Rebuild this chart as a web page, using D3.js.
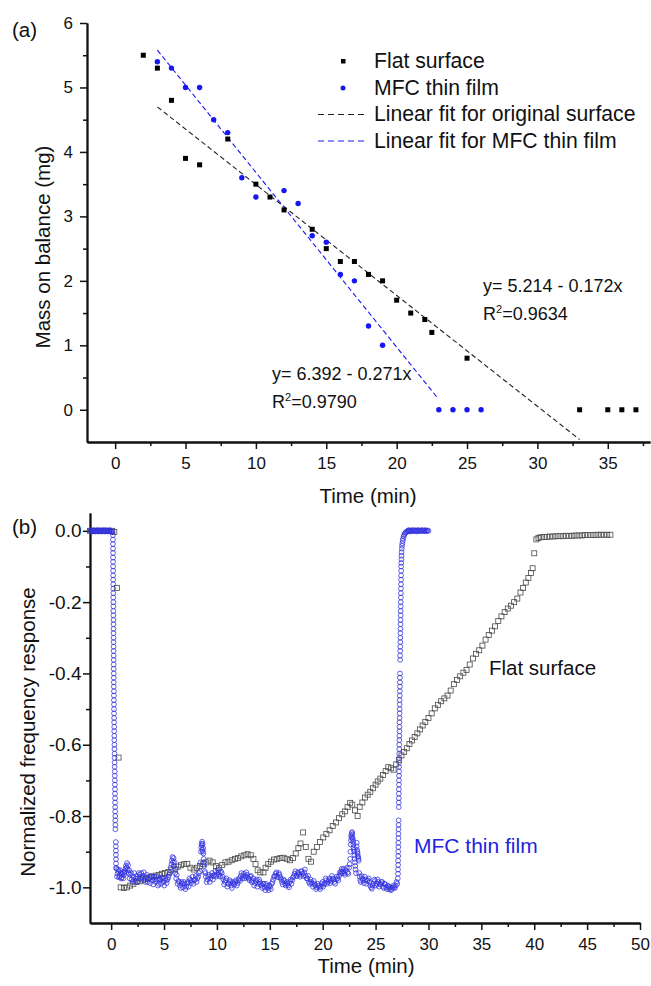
<!DOCTYPE html>
<html>
<head>
<meta charset="utf-8">
<script src="https://cdn.jsdelivr.net/npm/d3@7"></script>
<style>
body { margin: 0; background: #fff; }
svg { display: block; }
</style>
</head>
<body>
<svg id="chart"></svg>
<script>
// ---- panel (a): mass on balance ----
var flatTime = [2, 3, 4, 5, 6, 8, 10, 11, 12, 14, 15, 16, 17, 18, 19, 20, 21, 22, 22.5, 25, 33, 35, 36, 37];
var flatMass = [5.5, 5.3, 4.8, 3.9, 3.8, 4.2, 3.5, 3.3, 3.1, 2.8, 2.5, 2.3, 2.3, 2.1, 2.0, 1.7, 1.5, 1.4, 1.2, 0.8, 0, 0, 0, 0];
var mfcTime = [3, 4, 5, 6, 7, 8, 9, 10, 12, 13, 14, 15, 16, 17, 18, 19, 23, 24, 25, 26];
var mfcMass = [5.4, 5.3, 5.0, 5.0, 4.5, 4.3, 3.6, 3.3, 3.4, 3.2, 2.7, 2.6, 2.1, 2.0, 1.3, 1.0, 0, 0, 0, 0];
var fitCoef = [[5.214, -0.172], [6.392, -0.271]];   // intercept, slope
var fitRange = [[3, 33], [3, 22.9]];
var legendLabels = ["Flat surface", "MFC thin film", "Linear fit for original surface", "Linear fit for MFC thin film"];
var fitEquations = ["y= 5.214 - 0.172x", "y= 6.392 - 0.271x"];
var fitR2 = ["=0.9634", "=0.9790"];

// ---- panel (b): normalized frequency response [time, value] ----
var flatStart = [[-2,0],[-1.7,0],[-1.4,0],[-1.1,0],[-0.8,0],[-0.5,0],[-0.2,0],[0.1,0],[0.3,-0.003],[0.54,-0.16],[0.7,-0.636]];
var flatRise = [[0.9,-1.0],[1.2,-1.002],[1.5,-1.0],[1.8,-0.995],[2.1,-0.99],[2.4,-0.985],[2.7,-0.983],[3.0,-0.978],[3.3,-0.975],[3.6,-0.972],
  [3.9,-0.97],[4.2,-0.967],[4.5,-0.965],[4.8,-0.962],[5.1,-0.96],[5.4,-0.957],[5.7,-0.952],[6.0,-0.948],[6.3,-0.942],[6.6,-0.938],
  [6.9,-0.935],[7.2,-0.934],[7.5,-0.945],[7.8,-0.95],[8.1,-0.945],[8.4,-0.94],[8.7,-0.935],[9.0,-0.93],[9.3,-0.925],[9.6,-0.93],
  [9.9,-0.94],[10.2,-0.945],[10.5,-0.937],[10.8,-0.93],[11.1,-0.928],[11.4,-0.924],[11.7,-0.92],[12.0,-0.918],[12.3,-0.913],[12.6,-0.91],
  [12.9,-0.907],[13.2,-0.91],[13.45,-0.92],[13.65,-0.935],[13.85,-0.952],[14.1,-0.958],[14.4,-0.958],[14.6,-0.945],[14.85,-0.935],[15.1,-0.928],
  [15.4,-0.922],[15.7,-0.92],[16.0,-0.918],[16.3,-0.917],[16.6,-0.92],[16.9,-0.924],[17.2,-0.918],[17.45,-0.905],[17.7,-0.89],[17.9,-0.877],
  [18.15,-0.846],[18.4,-0.887],[18.65,-0.92],[18.9,-0.928],[19.15,-0.9],[19.45,-0.887],[19.75,-0.873],[20.05,-0.86],[20.35,-0.85],[20.65,-0.84],
  [20.95,-0.828],[21.25,-0.818],[21.55,-0.806],[21.85,-0.795],[22.1,-0.787],[22.35,-0.775],[22.6,-0.763],[22.8,-0.768],[23.05,-0.784],[23.3,-0.8],
  [23.5,-0.774],[23.75,-0.762],[24.0,-0.748],[24.25,-0.74],[24.5,-0.732],[24.75,-0.722],[25.0,-0.712],[25.2,-0.703],[25.45,-0.695],[25.7,-0.685],
  [25.95,-0.674],[26.2,-0.663],[26.45,-0.666],[26.7,-0.67],[26.95,-0.655],[27.2,-0.643],[27.45,-0.63],[27.7,-0.62],[27.95,-0.61],[28.2,-0.598],
  [28.45,-0.588],[28.7,-0.578],[28.95,-0.568],[29.2,-0.557],[29.45,-0.546],[29.7,-0.536],[30.0,-0.525],[30.3,-0.512],[30.6,-0.498],[30.9,-0.488],
  [31.2,-0.478],[31.5,-0.47],[31.8,-0.462],[32.1,-0.448],[32.4,-0.43],[32.7,-0.418],[33.0,-0.408],[33.3,-0.398],[33.6,-0.39],[33.9,-0.375],
  [34.2,-0.358],[34.5,-0.345],[34.8,-0.335],[35.1,-0.322],[35.4,-0.305],[35.7,-0.292],[36.0,-0.28],[36.3,-0.268],[36.6,-0.253],[36.9,-0.24],
  [37.2,-0.228],[37.5,-0.218],[37.8,-0.21],[38.1,-0.2],[38.4,-0.19],[38.7,-0.173],[38.95,-0.16],[39.2,-0.145],[39.45,-0.132],[39.7,-0.118],
  [39.85,-0.105],[40.0,-0.063],[40.2,-0.024]];
var flatEnd = [[40.4,-0.02],[40.6,-0.018],[40.9,-0.017],[41.2,-0.017],[41.5,-0.016],[41.8,-0.016],[42.1,-0.015],[42.4,-0.015],[42.7,-0.015],
  [43.0,-0.014],[43.3,-0.014],[43.6,-0.014],[43.9,-0.013],[44.2,-0.013],[44.5,-0.013],[44.8,-0.012],[45.1,-0.012],[45.4,-0.012],[45.7,-0.012],
  [46.0,-0.011],[46.3,-0.011],[46.6,-0.011],[46.9,-0.011],[47.2,-0.011]];

var mfcStart = [[-2,0],[-1.92,0.002],[-1.85,0.001],[-1.78,-0.002],[-1.7,0],[-1.62,0.002],[-1.55,-0.001],[-1.48,-0.002],[-1.4,0],[-1.32,0.002],
  [-1.25,0.001],[-1.18,-0.002],[-1.1,0],[-1.02,0.002],[-0.95,-0.001],[-0.88,-0.002],[-0.8,0],[-0.72,0.002],[-0.65,0.001],[-0.58,-0.002],
  [-0.5,0],[-0.42,0.002],[-0.35,-0.001],[-0.28,-0.002],[-0.2,0],[-0.12,0.002],[-0.05,0],[0.0,-0.002],[0.05,-0.002],[0.12,-0.004]];
var mfcDrop = [[0.17,-0.012],[0.17,-0.025],[0.17,-0.037],[0.18,-0.05],[0.18,-0.062],[0.18,-0.075],[0.18,-0.087],[0.19,-0.1],[0.19,-0.112],
  [0.19,-0.125],[0.19,-0.137],[0.2,-0.15],[0.2,-0.162],[0.2,-0.175],[0.2,-0.187],[0.21,-0.2],[0.21,-0.212],[0.21,-0.225],[0.21,-0.237],
  [0.22,-0.25],[0.22,-0.262],[0.22,-0.275],[0.22,-0.287],[0.23,-0.3],[0.23,-0.312],[0.23,-0.325],[0.23,-0.337],[0.24,-0.35],[0.24,-0.362],
  [0.24,-0.375],[0.24,-0.387],[0.25,-0.4],[0.25,-0.412],[0.25,-0.425],[0.25,-0.437],[0.26,-0.45],[0.26,-0.462],[0.26,-0.475],[0.27,-0.487],
  [0.27,-0.5],[0.27,-0.512],[0.28,-0.525],[0.28,-0.537],[0.29,-0.55],[0.29,-0.562],[0.3,-0.575],[0.3,-0.587],[0.31,-0.6],[0.31,-0.612],
  [0.32,-0.625],[0.32,-0.637],[0.33,-0.65],[0.33,-0.662],[0.34,-0.675],[0.34,-0.687],[0.35,-0.7],[0.35,-0.712],[0.36,-0.725],[0.36,-0.737],
  [0.37,-0.75],[0.37,-0.762],[0.38,-0.775],[0.38,-0.787],[0.39,-0.8],[0.39,-0.812],[0.4,-0.825],[0.4,-0.837],
  [0.44,-0.873],[0.44,-0.885],[0.45,-0.897],[0.45,-0.909],[0.46,-0.921],[0.46,-0.933],[0.47,-0.945]];
var mfcBand = [[0.5,-0.948],[0.6,-0.962],[0.7,-0.955],[0.8,-0.968],[0.9,-0.96],[1.0,-0.972],[1.1,-0.958],[1.2,-0.966],[1.3,-0.955],[1.4,-0.94],
  [1.5,-0.932],[1.6,-0.938],[1.7,-0.952],[1.8,-0.965],[1.95,-0.978],[2.1,-0.97],[2.25,-0.982],[2.4,-0.968],[2.55,-0.975],[2.7,-0.965],
  [2.85,-0.96],[3.0,-0.968],[3.15,-0.98],[3.3,-0.972],[3.45,-0.985],[3.6,-0.975],[3.75,-0.968],[3.9,-0.98],[4.05,-0.97],[4.2,-0.985],
  [4.35,-0.978],[4.5,-0.99],[4.65,-0.98],[4.8,-0.972],[4.95,-0.985],[5.1,-0.975],[5.25,-0.988],[5.4,-0.972],[5.55,-0.96],[5.7,-0.935],
  [5.8,-0.915],[5.9,-0.918],[6.0,-0.93],[6.1,-0.95],[6.2,-0.965],[6.35,-0.982],[6.5,-0.995],[6.65,-0.985],[6.8,-1.0],[6.95,-0.99],
  [7.1,-0.998],[7.25,-0.985],[7.4,-0.975],[7.55,-0.988],[7.7,-0.97],[7.85,-0.98],[8.0,-0.968],[8.15,-0.975],[8.3,-0.96],[8.45,-0.93],
  [8.5,-0.9],[8.55,-0.878],[8.6,-0.872],[8.65,-0.878],[8.7,-0.89],[8.72,-0.905],[8.75,-0.92],[8.8,-0.94],[8.85,-0.955],[8.95,-0.97],
  [9.1,-0.978],[9.25,-0.965],[9.4,-0.975],[9.55,-0.96],[9.7,-0.968],[9.85,-0.955],[10.0,-0.965],[10.15,-0.958],[10.3,-0.97],[10.45,-0.96],
  [10.6,-0.978],[10.75,-0.985],[10.9,-0.975],[11.05,-0.99],[11.2,-0.98],[11.35,-0.995],[11.5,-0.985],[11.65,-0.992],[11.8,-0.98],[11.95,-0.988],
  [12.1,-0.975],[12.25,-0.968],[12.4,-0.975],[12.55,-0.962],[12.7,-0.97],[12.85,-0.965],[13.0,-0.975],[13.15,-0.97],[13.3,-0.985],[13.45,-0.975],
  [13.6,-0.988],[13.75,-0.978],[13.9,-0.99],[14.05,-0.985],[14.2,-0.995],[14.35,-0.99],[14.5,-1.0],[14.65,-0.99],[14.8,-1.002],[14.95,-0.995],
  [15.1,-1.005],[15.25,-0.985],[15.4,-0.97],[15.55,-0.962],[15.7,-0.968],[15.85,-0.96],[16.0,-0.972],[16.15,-0.985],[16.3,-0.978],[16.45,-0.99],
  [16.6,-0.985],[16.75,-0.995],[16.9,-0.985],[17.05,-0.99],[17.2,-0.972],[17.35,-0.962],[17.5,-0.968],[17.65,-0.958],[17.8,-0.965],[17.95,-0.955],
  [18.1,-0.962],[18.25,-0.958],[18.4,-0.968],[18.55,-0.975],[18.7,-0.985],[18.85,-0.978],[19.0,-0.99],[19.15,-0.982],[19.3,-0.995],[19.45,-1.0],
  [19.6,-0.995],[19.75,-1.005],[19.9,-0.99],[20.05,-0.998],[20.2,-0.988],[20.35,-0.98],[20.5,-0.985],[20.65,-0.975],[20.8,-0.982],[20.95,-0.975],
  [21.1,-0.985],[21.25,-0.978],[21.4,-0.975],[21.55,-0.968],[21.7,-0.962],[21.8,-0.948],[21.9,-0.955],[22.05,-0.96],[22.2,-0.952],[22.35,-0.958],
  [22.5,-0.945],[22.6,-0.92],[22.65,-0.88],[22.7,-0.855],[22.75,-0.848],[22.8,-0.852],[22.85,-0.865],[22.9,-0.88],[22.95,-0.895],[23.0,-0.91],
  [23.05,-0.93],[23.1,-0.95],[23.2,-0.885],[23.25,-0.895],[23.3,-0.905],[23.35,-0.915],[23.4,-0.925],[23.5,-0.97],[23.6,-0.985],[23.75,-0.975],
  [23.9,-0.988],[24.05,-0.978],[24.2,-0.982],[24.35,-0.975],[24.5,-0.995],[24.65,-1.004],[24.8,-0.99],[24.95,-0.982],[25.1,-0.99],[25.25,-0.985],
  [25.4,-0.992],[25.55,-0.985],[25.7,-0.998],[25.85,-0.99],[26.0,-1.0],[26.15,-0.995],[26.3,-1.005],[26.45,-1.008],[26.6,-1.0],[26.75,-1.0],
  [26.9,-0.995],[27.05,-0.99]];
// second, interleaved trace of the noisy band (the band is several circles thick)
var mfcBand2 = [[0.55,-0.97],[0.65,-0.95],[0.75,-0.972],[0.85,-0.952],[0.95,-0.975],[1.05,-0.962],[1.15,-0.975],[1.25,-0.96],[1.35,-0.948],[1.45,-0.945],
  [1.55,-0.95],[1.65,-0.96],[1.75,-0.975],[1.88,-0.96],[2.02,-0.985],[2.18,-0.96],[2.32,-0.975],[2.48,-0.985],[2.62,-0.96],[2.78,-0.975],
  [2.92,-0.972],[3.08,-0.958],[3.22,-0.985],[3.38,-0.965],[3.52,-0.978],[3.68,-0.988],[3.82,-0.97],[3.98,-0.992],[4.12,-0.978],[4.28,-0.97],
  [4.42,-0.995],[4.58,-0.975],[4.72,-0.99],[4.88,-0.975],[5.02,-0.995],[5.18,-0.98],[5.32,-0.978],[5.48,-0.965],[5.62,-0.945],[5.75,-0.925],
  [5.85,-0.93],[5.95,-0.94],[6.05,-0.96],[6.15,-0.975],[6.28,-0.99],[6.42,-0.985],[6.58,-1.002],[6.72,-0.99],[6.88,-0.985],[7.02,-1.005],
  [7.18,-0.99],[7.32,-0.998],[7.48,-0.98],[7.62,-0.982],[7.78,-0.99],[7.92,-0.978],[8.08,-0.985],[8.22,-0.97],[8.38,-0.955],[8.52,-0.888],
  [8.58,-0.882],[8.62,-0.895],[8.68,-0.9],[8.78,-0.93],[8.9,-0.96],[9.02,-0.985],[9.18,-0.97],[9.32,-0.985],[9.48,-0.968],[9.62,-0.978],
  [9.78,-0.965],[9.92,-0.97],[10.08,-0.95],[10.22,-0.965],[10.38,-0.955],[10.52,-0.97],[10.68,-0.992],[10.82,-0.98],[10.98,-0.998],[11.12,-0.99],
  [11.28,-0.985],[11.42,-1.002],[11.58,-0.99],[11.72,-0.985],[11.88,-0.995],[12.02,-0.98],[12.18,-0.982],[12.32,-0.96],[12.48,-0.968],[12.62,-0.975],
  [12.78,-0.958],[12.92,-0.972],[13.08,-0.98],[13.22,-0.968],[13.38,-0.982],[13.52,-0.995],[13.68,-0.982],[13.82,-0.998],[13.98,-0.978],[14.12,-0.99],
  [14.28,-1.002],[14.42,-0.99],[14.58,-1.008],[14.72,-0.995],[14.88,-1.008],[15.02,-0.998],[15.18,-0.99],[15.32,-0.978],[15.48,-0.968],[15.62,-0.958],
  [15.78,-0.972],[15.92,-0.965],[16.08,-0.978],[16.22,-0.992],[16.38,-0.982],[16.52,-0.995],[16.68,-0.99],[16.82,-1.0],[16.98,-0.978],[17.12,-0.98],
  [17.28,-0.968],[17.42,-0.955],[17.58,-0.968],[17.72,-0.96],[17.88,-0.97],[18.02,-0.955],[18.18,-0.968],[18.32,-0.95],[18.48,-0.975],[18.62,-0.968],
  [18.78,-0.99],[18.92,-0.985],[19.08,-0.998],[19.22,-0.99],[19.38,-1.005],[19.52,-0.99],[19.68,-1.0],[19.82,-0.998],[19.98,-0.985],[20.12,-0.992],
  [20.28,-0.975],[20.42,-0.99],[20.58,-0.98],[20.72,-0.988],[20.88,-0.968],[21.02,-0.978],[21.18,-0.99],[21.32,-0.97],[21.48,-0.98],[21.62,-0.958],
  [21.75,-0.955],[21.85,-0.96],[21.98,-0.948],[22.12,-0.965],[22.28,-0.945],[22.42,-0.962],[22.55,-0.935],[22.62,-0.9],[22.68,-0.868],[22.72,-0.86],
  [22.78,-0.845],[22.82,-0.862],[22.88,-0.872],[22.92,-0.888],[22.98,-0.9],[23.02,-0.92],[23.08,-0.94],[23.15,-0.96],[23.22,-0.875],[23.28,-0.9],
  [23.32,-0.912],[23.38,-0.92],[23.45,-0.96],[23.55,-0.98],[23.68,-0.968],[23.82,-0.98],[23.98,-0.97],[24.12,-0.99],[24.28,-0.98],[24.42,-0.985],
  [24.58,-1.0],[24.72,-0.995],[24.88,-0.978],[25.02,-0.995],[25.18,-0.978],[25.32,-0.998],[25.48,-0.99],[25.62,-0.985],[25.78,-1.002],[25.92,-0.992],
  [26.08,-1.005],[26.22,-0.998],[26.38,-1.0],[26.52,-1.005],[26.68,-0.995],[26.82,-1.002],[26.98,-0.985]];
var mfcRise = [[27.1,-0.975],[27.12,-0.962],[27.12,-0.95],[27.13,-0.937],[27.13,-0.925],[27.14,-0.912],[27.14,-0.9],[27.15,-0.887],[27.15,-0.875],
  [27.16,-0.862],[27.16,-0.85],[27.17,-0.837],[27.17,-0.825],[27.18,-0.812],
  [27.19,-0.775],[27.19,-0.762],[27.2,-0.75],[27.2,-0.737],[27.2,-0.725],[27.21,-0.712],[27.21,-0.7],[27.22,-0.687],[27.22,-0.675],[27.22,-0.662],
  [27.23,-0.65],[27.23,-0.637],[27.24,-0.625],[27.24,-0.612],[27.24,-0.6],[27.25,-0.587],[27.25,-0.575],[27.26,-0.562],[27.26,-0.55],[27.26,-0.537],
  [27.27,-0.525],[27.27,-0.512],[27.28,-0.5],[27.28,-0.487],[27.28,-0.475],[27.29,-0.462],[27.29,-0.45],[27.3,-0.437],[27.3,-0.425],[27.3,-0.412],
  [27.31,-0.4],
  [27.32,-0.362],[27.32,-0.35],[27.33,-0.337],[27.33,-0.325],[27.34,-0.312],[27.34,-0.3],[27.35,-0.287],[27.35,-0.275],[27.36,-0.262],[27.36,-0.25],
  [27.37,-0.237],[27.37,-0.225],[27.38,-0.212],[27.38,-0.2],[27.39,-0.187],[27.39,-0.175],[27.4,-0.162],[27.4,-0.15],[27.41,-0.137],[27.41,-0.125],
  [27.42,-0.112],[27.42,-0.1],[27.43,-0.09],[27.44,-0.08],[27.45,-0.07],[27.46,-0.06],[27.48,-0.05],[27.5,-0.042],[27.53,-0.035],[27.56,-0.028],
  [27.6,-0.022],[27.65,-0.016],[27.7,-0.012],[27.76,-0.008],[27.83,-0.005],[27.9,-0.003]];
var mfcEnd = [[28.0,-0.002],[28.07,0.001],[28.1,-0.001],[28.18,0.002],[28.25,0],[28.32,-0.002],[28.4,0],[28.48,0.002],[28.55,0.001],[28.62,-0.001],
  [28.7,0],[28.78,0.002],[28.85,0],[28.92,-0.002],[29.0,0.001],[29.08,0.002],[29.15,0],[29.22,-0.001],[29.3,0],[29.38,0.002],
  [29.45,0.001],[29.52,-0.001],[29.6,0],[29.68,0.002],[29.75,0],[29.82,-0.001],[29.9,0.001],[30.0,0]];

var ticksA = {x: [0, 5, 10, 15, 20, 25, 30, 35], xMinor: [2.5, 7.5, 12.5, 17.5, 22.5, 27.5, 32.5, 37.5], y: [0, 1, 2, 3, 4, 5, 6], yMinor: [0.5, 1.5, 2.5, 3.5, 4.5, 5.5]};
var ticksB = {x: [0, 5, 10, 15, 20, 25, 30, 35, 40, 45, 50], xMinor: [2.5, 7.5, 12.5, 17.5, 22.5, 27.5, 32.5, 37.5, 42.5, 47.5], y: [-1.0, -0.8, -0.6, -0.4, -0.2, 0.0], yMinor: [-0.9, -0.7, -0.5, -0.3, -0.1]};

var font = "'Liberation Sans', Arial, sans-serif";
var blueA = "#1616f2";
var blueB = "#3030e0";

var svg = d3.select("#chart")
            .attr("width", 651)
            .attr("height", 986)
            .style("font-family", font);

svg.append("rect").attr("width", 651).attr("height", 986).attr("fill", "#fff");

var xA = d3.scaleLinear().domain([-2, 38]).range([87, 650]);
var yA = d3.scaleLinear().domain([-0.5, 6]).range([442, 23]);
var xB = d3.scaleLinear().domain([-2, 50]).range([90, 640]);
var yB = d3.scaleLinear().domain([-1.1, 0.05]).range([923, 513]);

function styleAxis(g, size) {
  g.attr("font-family", font).attr("font-size", size).style("color", "#111");
  g.select(".domain").attr("stroke-width", 1.8);
  g.selectAll(".tick line").attr("stroke-width", 1.5);
}

function drawAxes(xs, ys, ticks, yFormat, yPad, xFont, yFont) {
  var y0 = ys.range()[0], x0 = xs.range()[0];
  svg.append("g").attr("transform", "translate(0," + y0 + ")")
     .call(d3.axisBottom(xs).tickValues(ticks.xMinor).tickSize(4).tickSizeOuter(0).tickFormat(""))
     .call(styleAxis, xFont);
  svg.append("g").attr("transform", "translate(0," + y0 + ")")
     .call(d3.axisBottom(xs).tickValues(ticks.x).tickSize(7).tickSizeOuter(0).tickPadding(8))
     .call(styleAxis, xFont);
  svg.append("g").attr("transform", "translate(" + x0 + ",0)")
     .call(d3.axisLeft(ys).tickValues(ticks.yMinor).tickSize(4).tickSizeOuter(0).tickFormat(""))
     .call(styleAxis, yFont);
  svg.append("g").attr("transform", "translate(" + x0 + ",0)")
     .call(d3.axisLeft(ys).tickValues(ticks.y).tickSize(7).tickSizeOuter(0).tickPadding(yPad).tickFormat(yFormat))
     .call(styleAxis, yFont);
}

// ---------- panel (a) ----------
drawAxes(xA, yA, ticksA, function(d){ return d; }, 7, 17, 17);

var fitColors = ["#222", blueA];
fitCoef.forEach(function(c, i) {
  var pts = fitRange[i].map(function(x){ return [x, c[0] + c[1] * x]; });
  svg.append("path")
     .datum(pts)
     .attr("d", d3.line().x(function(d){ return xA(d[0]); }).y(function(d){ return yA(d[1]); }))
     .attr("fill", "none")
     .attr("stroke", fitColors[i])
     .attr("stroke-width", 1.1)
     .attr("stroke-dasharray", "5,3");
});

svg.append("g").selectAll("rect")
   .data(flatTime)
   .enter().append("rect")
   .attr("x", function(d){ return xA(d) - 2.5; })
   .attr("y", function(d, i){ return yA(flatMass[i]) - 2.5; })
   .attr("width", 5).attr("height", 5)
   .attr("fill", "#000");

svg.append("g").selectAll("circle")
   .data(mfcTime)
   .enter().append("circle")
   .attr("cx", function(d){ return xA(d); })
   .attr("cy", function(d, i){ return yA(mfcMass[i]); })
   .attr("r", 2.7)
   .attr("fill", blueA);

// legend
var legendY = [68, 95, 121, 148];
var legend = svg.append("g");
legend.append("rect").attr("x", 341).attr("y", 59).attr("width", 4.5).attr("height", 4.5).attr("fill", "#000");
legend.append("circle").attr("cx", 343).attr("cy", 88).attr("r", 2.5).attr("fill", blueA);
legend.append("line").attr("x1", 318).attr("x2", 366).attr("y1", 114.5).attr("y2", 114.5)
      .attr("stroke", "#222").attr("stroke-width", 1.1).attr("stroke-dasharray", "6,4");
legend.append("line").attr("x1", 318).attr("x2", 366).attr("y1", 141).attr("y2", 141)
      .attr("stroke", blueA).attr("stroke-width", 1.1).attr("stroke-dasharray", "6,4");
legend.selectAll("text")
      .data(legendLabels)
      .enter().append("text")
      .attr("x", 374)
      .attr("y", function(d, i){ return legendY[i]; })
      .attr("font-size", 21.2)
      .attr("fill", "#111")
      .text(function(d){ return d; });

// fit annotations
var eqPos = [[483, 292], [272, 380]];
fitEquations.forEach(function(t, i) {
  svg.append("text").attr("x", eqPos[i][0]).attr("y", eqPos[i][1])
     .attr("font-size", 18).attr("fill", "#111").text(t);
  var r = svg.append("text").attr("x", eqPos[i][0]).attr("y", eqPos[i][1] + 27.5)
     .attr("font-size", 18).attr("fill", "#111");
  r.append("tspan").text("R");
  r.append("tspan").attr("dy", -7).attr("font-size", 11).text("2");
  r.append("tspan").attr("dy", 7).text(fitR2[i]);
});

svg.append("text").attr("x", 12).attr("y", 37).attr("font-size", 20.5).attr("fill", "#111").text("(a)");
svg.append("text").attr("x", 368).attr("y", 503).attr("text-anchor", "middle")
   .attr("font-size", 20.5).attr("fill", "#111").text("Time (min)");
svg.append("text").attr("transform", "translate(50,247) rotate(-90)").attr("text-anchor", "middle")
   .attr("font-size", 20.5).attr("fill", "#111").text("Mass on balance (mg)");

// ---------- panel (b) ----------
drawAxes(xB, yB, ticksB, function(d){ return d.toFixed(1); }, 1.5, 17, 19);

var flatResp = flatStart.concat(flatRise, flatEnd);
var mfcResp = mfcStart.concat(mfcDrop, mfcBand, mfcBand2, mfcRise, mfcEnd);

svg.append("g").selectAll("rect")
   .data(flatResp)
   .enter().append("rect")
   .attr("x", function(d){ return xB(d[0]) - 2.5; })
   .attr("y", function(d){ return yB(d[1]) - 2.5; })
   .attr("width", 5).attr("height", 5)
   .attr("fill", "none")
   .attr("stroke", "#4a4a4a")
   .attr("stroke-width", 0.8);

svg.append("g").selectAll("circle")
   .data(mfcResp)
   .enter().append("circle")
   .attr("cx", function(d){ return xB(d[0]); })
   .attr("cy", function(d){ return yB(d[1]); })
   .attr("r", 2.4)
   .attr("fill", "none")
   .attr("stroke", blueB)
   .attr("stroke-opacity", 0.85)
   .attr("stroke-width", 0.9);

svg.append("text").attr("x", 489).attr("y", 675).attr("font-size", 20.5).attr("fill", "#111").text("Flat surface");
svg.append("text").attr("x", 414).attr("y", 853).attr("font-size", 21).attr("fill", "#2323e0").text("MFC thin film");

svg.append("text").attr("x", 12).attr("y", 534).attr("font-size", 20.5).attr("fill", "#111").text("(b)");
svg.append("text").attr("x", 366).attr("y", 973).attr("text-anchor", "middle")
   .attr("font-size", 20.5).attr("fill", "#111").text("Time (min)");
svg.append("text").attr("transform", "translate(35,732) rotate(-90)").attr("text-anchor", "middle")
   .attr("font-size", 20.5).attr("fill", "#111").text("Normalized frequency response");
</script>
</body>
</html>
